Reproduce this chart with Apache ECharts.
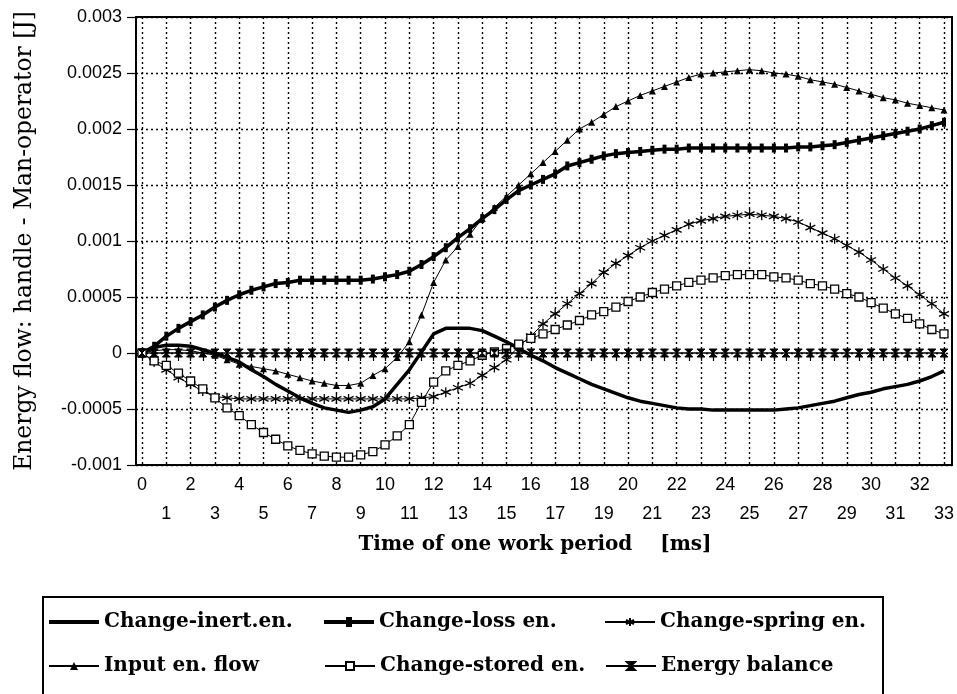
<!DOCTYPE html>
<html>
<head>
<meta charset="utf-8">
<script src="https://cdn.jsdelivr.net/npm/echarts@6/dist/echarts.min.js"></script>
<style>
  html, body { margin: 0; padding: 0; background: #fff; }
  #chart { width: 957px; height: 694px; }
</style>
</head>
<body>
<div id="chart"></div>
<script>
// Sampling instants over one work period [ms]
const timeMs = [
  0, 0.5, 1, 1.5, 2, 2.5, 3, 3.5, 4, 4.5,
  5, 5.5, 6, 6.5, 7, 7.5, 8, 8.5, 9, 9.5,
  10, 10.5, 11, 11.5, 12, 12.5, 13, 13.5, 14, 14.5,
  15, 15.5, 16, 16.5, 17, 17.5, 18, 18.5, 19, 19.5,
  20, 20.5, 21, 21.5, 22, 22.5, 23, 23.5, 24, 24.5,
  25, 25.5, 26, 26.5, 27, 27.5, 28, 28.5, 29, 29.5,
  30, 30.5, 31, 31.5, 32, 32.5, 33
];

// Energy flow components [J]
const changeInert = [
  0, 0.00005, 0.00007, 0.00007, 0.00006, 0.00003, 0, -0.00004, -0.00008, -0.00015,
  -0.00021, -0.00028, -0.00034, -0.0004, -0.00045, -0.00049, -0.00051, -0.00053, -0.00051, -0.00048,
  -0.00041, -0.00028, -0.00015, 0.00001, 0.00017, 0.00022, 0.00022, 0.00022, 0.0002, 0.00015,
  0.0001, 0.00004, -0.00002, -0.00007, -0.00013, -0.00018, -0.00023, -0.00028, -0.00032, -0.00036,
  -0.0004, -0.00043, -0.00045, -0.00047, -0.00049, -0.0005, -0.0005, -0.00051, -0.00051, -0.00051,
  -0.00051, -0.00051, -0.00051, -0.0005, -0.00049, -0.00047, -0.00045, -0.00043, -0.0004, -0.00037,
  -0.00035, -0.00032, -0.0003, -0.00028, -0.00025, -0.00021, -0.00016
];

const changeLoss = [
  0, 0.00006, 0.00015, 0.00022, 0.00028, 0.00034, 0.00041, 0.00047, 0.00052, 0.00056,
  0.00059, 0.00062, 0.00063, 0.00065, 0.00065, 0.00065, 0.00065, 0.00065, 0.00065, 0.00066,
  0.00068, 0.0007, 0.00073, 0.00079, 0.00086, 0.00094, 0.00103, 0.00111, 0.0012, 0.00128,
  0.00137, 0.00145, 0.0015, 0.00155, 0.0016, 0.00167, 0.0017, 0.00173, 0.00176, 0.00178,
  0.00179, 0.0018, 0.00181, 0.00182, 0.00182, 0.00183, 0.00183, 0.00183, 0.00183, 0.00183,
  0.00183, 0.00183, 0.00183, 0.00183, 0.00184, 0.00184, 0.00185, 0.00186, 0.00188, 0.0019,
  0.00192, 0.00194, 0.00196, 0.00198, 0.002, 0.00203, 0.00206
];

const changeSpring = [
  0, -0.00008, -0.00015, -0.00022, -0.00028, -0.00034, -0.00039, -0.0004, -0.00041, -0.00041,
  -0.00041, -0.00041, -0.00041, -0.00041, -0.00041, -0.00041, -0.00041, -0.00041, -0.00041, -0.00041,
  -0.00041, -0.00041, -0.00041, -0.0004, -0.00039, -0.00035, -0.00031, -0.00027, -0.0002, -0.00013,
  -0.00006, 0.00006, 0.00015, 0.00026, 0.00035, 0.00044, 0.00053, 0.00062, 0.00072, 0.0008,
  0.00087, 0.00094, 0.001, 0.00105, 0.0011, 0.00115, 0.00118, 0.0012, 0.00122, 0.00123,
  0.00124, 0.00123, 0.00122, 0.0012, 0.00117, 0.00112, 0.00107, 0.00102, 0.00096, 0.0009,
  0.00083, 0.00075, 0.00067, 0.0006, 0.00052, 0.00044, 0.00035
];

const inputFlow = [
  0, 0.00002, 0.00003, 0.00003, 0.00002, 0, -0.00002, -0.00006, -0.0001, -0.00012,
  -0.00014, -0.00016, -0.00019, -0.00022, -0.00025, -0.00027, -0.00029, -0.00029, -0.00027, -0.0002,
  -0.00014, -0.00004, 0.0001, 0.00034, 0.00063, 0.00083, 0.00095, 0.00106, 0.0012, 0.0013,
  0.0014, 0.0015, 0.0016, 0.0017, 0.0018, 0.0019, 0.002, 0.00206, 0.00213, 0.0022,
  0.00225, 0.0023, 0.00234, 0.00238, 0.00242, 0.00246, 0.00249, 0.0025, 0.00251, 0.00252,
  0.00253, 0.00252, 0.0025, 0.00249, 0.00247, 0.00244, 0.00242, 0.0024, 0.00237, 0.00234,
  0.00231, 0.00228, 0.00226, 0.00223, 0.00221, 0.00219, 0.00217
];

const changeStored = [
  0, -0.00007, -0.00011, -0.00018, -0.00025, -0.00032, -0.0004, -0.00049, -0.00056, -0.00064,
  -0.00071, -0.00077, -0.00083, -0.00087, -0.0009, -0.00092, -0.00093, -0.00093, -0.00091, -0.00088,
  -0.00082, -0.00074, -0.00064, -0.00044, -0.00026, -0.00016, -0.00011, -0.00007, -0.00002, 0.00001,
  0.00004, 0.00008, 0.00013, 0.00017, 0.00021, 0.00025, 0.00029, 0.00034, 0.00037, 0.00041,
  0.00046, 0.0005, 0.00054, 0.00057, 0.0006, 0.00063, 0.00065, 0.00067, 0.00069, 0.0007,
  0.0007, 0.0007, 0.00068, 0.00067, 0.00065, 0.00062, 0.0006, 0.00057, 0.00053, 0.0005,
  0.00045, 0.0004, 0.00035, 0.00031, 0.00026, 0.00021, 0.00017
];

const energyBalance = [
  0, 0, 0, 0, 0, 0, 0, 0, 0, 0,
  0, 0, 0, 0, 0, 0, 0, 0, 0, 0,
  0, 0, 0, 0, 0, 0, 0, 0, 0, 0,
  0, 0, 0, 0, 0, 0, 0, 0, 0, 0,
  0, 0, 0, 0, 0, 0, 0, 0, 0, 0,
  0, 0, 0, 0, 0, 0, 0, 0, 0, 0,
  0, 0, 0, 0, 0, 0, 0
];

const seriesNames = [
  'Change-inert.en.', 'Change-loss en.', 'Change-spring en.',
  'Input en. flow', 'Change-stored en.', 'Energy balance'
];

const asteriskPath = 'path://M5,0L5,10M0.7,2.5L9.3,7.5M0.7,7.5L9.3,2.5';
const hourglassPath = 'path://M0,0L10,0L0,10L10,10Z';
// legend keys for the two heavy lines
const heavyKey = 'path://M0,0H50V4H0Z';
const heavyTickKey = 'path://M0,3H22V0H28V3H50V7H28V10H22V7H0Z';

const pairs = vals => timeMs.map((t, i) => [t, vals[i]]);

const dotted = { color: '#000', width: 1.4, type: [2, 3] };
const tickFont = { fontFamily: 'Liberation Sans, Arial, sans-serif', fontSize: 18, color: '#000' };
const serifBold = { fontFamily: 'DejaVu Serif, serif', fontWeight: 'bold', fontSize: 20, color: '#000' };

const base = { type: 'line', xAxisIndex: 1, yAxisIndex: 1, animation: false, z: 3 };

const chart = echarts.init(document.getElementById('chart'), null, { renderer: 'canvas' });

chart.setOption({
  backgroundColor: '#fff',
  animation: false,
  grid: [
    // outer frame of the plot
    { left: 136, right: 5, top: 17, bottom: 229, show: true, borderColor: '#000', borderWidth: 2, backgroundColor: 'transparent' },
    // plotting area: t = 0 .. 33 ms
    { left: 142, right: 10, top: 17, bottom: 229 }
  ],
  xAxis: [
    { gridIndex: 0, type: 'value', min: 0, max: 1, show: false },
    {
      gridIndex: 1, type: 'value', min: 0, max: 33, interval: 1,
      axisLine: { show: false },
      axisTick: { show: true, length: 8, lineStyle: { color: '#000', width: 1.2 } },
      minorTick: { show: true, splitNumber: 2, length: 8, lineStyle: { color: '#000', width: 1.2 } },
      splitLine: { show: true, lineStyle: dotted },
      axisLabel: Object.assign({
        margin: 6, lineHeight: 29,
        formatter: v => (v % 2 === 0 ? String(v) : '\n' + v)
      }, tickFont),
      name: 'Time of one work period    [ms]',
      nameLocation: 'middle', nameGap: 70,
      nameTextStyle: Object.assign({ padding: [0, 16, 0, 0] }, serifBold)
    }
  ],
  yAxis: [
    {
      gridIndex: 0, type: 'value', min: -0.001, max: 0.003, interval: 0.0005,
      axisLine: { show: true, lineStyle: { color: '#000', width: 2 } },
      axisTick: { show: true, length: 9, lineStyle: { color: '#000', width: 1.2 } },
      splitLine: { show: true, lineStyle: dotted },
      axisLabel: Object.assign({ margin: 14, formatter: v => String(parseFloat(v.toFixed(4))) }, tickFont),
      name: 'Energy flow: handle - Man-operator [J]',
      nameLocation: 'middle', nameGap: 100,
      nameTextStyle: { fontFamily: 'DejaVu Serif, serif', fontSize: 23.4, color: '#000' }
    },
    { gridIndex: 1, type: 'value', min: -0.001, max: 0.003, show: false }
  ],
  legend: {
    data: [
      { name: seriesNames[0], icon: heavyKey },
      { name: seriesNames[1], icon: heavyTickKey },
      seriesNames[2], seriesNames[3], seriesNames[4], seriesNames[5]
    ],
    left: 43, top: 597, width: 830,
    orient: 'horizontal',
    itemWidth: 50, itemHeight: 10, itemGap: 14,
    padding: [10, 5, 40, 5],
    borderColor: '#000', borderWidth: 2,
    selectedMode: false,
    formatter: name => '{c' + (seriesNames.indexOf(name) % 3) + '|' + name + '}',
    textStyle: Object.assign({
      lineHeight: 30,
      rich: {
        c0: Object.assign({ width: 206, lineHeight: 30 }, serifBold),
        c1: Object.assign({ width: 211, lineHeight: 30 }, serifBold),
        c2: Object.assign({ width: 217, lineHeight: 30 }, serifBold)
      }
    }, serifBold)
  },
  series: [
    Object.assign({}, base, {
      name: seriesNames[0], data: pairs(changeInert),
      symbol: 'none', lineStyle: { color: '#000', width: 3.5 }, itemStyle: { color: '#000' }
    }),
    Object.assign({}, base, {
      name: seriesNames[1], data: pairs(changeLoss),
      symbol: 'rect', symbolSize: [4, 9],
      lineStyle: { color: '#000', width: 3.5 }, itemStyle: { color: '#000' }
    }),
    Object.assign({}, base, {
      name: seriesNames[2], data: pairs(changeSpring),
      symbol: asteriskPath, symbolSize: 10,
      lineStyle: { color: '#000', width: 1 },
      itemStyle: { color: '#000', borderColor: '#000', borderWidth: 1.3 }
    }),
    Object.assign({}, base, {
      name: seriesNames[3], data: pairs(inputFlow),
      symbol: 'triangle', symbolSize: 7,
      lineStyle: { color: '#000', width: 1 }, itemStyle: { color: '#000' }
    }),
    Object.assign({}, base, {
      name: seriesNames[4], data: pairs(changeStored),
      symbol: 'rect', symbolSize: 8,
      lineStyle: { color: '#000', width: 1 },
      itemStyle: { color: '#fff', borderColor: '#000', borderWidth: 1.3 }
    }),
    Object.assign({}, base, {
      name: seriesNames[5], data: pairs(energyBalance),
      symbol: hourglassPath, symbolSize: 8,
      lineStyle: { color: '#000', width: 1.5 },
      itemStyle: { color: '#000', borderColor: '#000', borderWidth: 1 }
    })
  ]
});
</script>
</body>
</html>
